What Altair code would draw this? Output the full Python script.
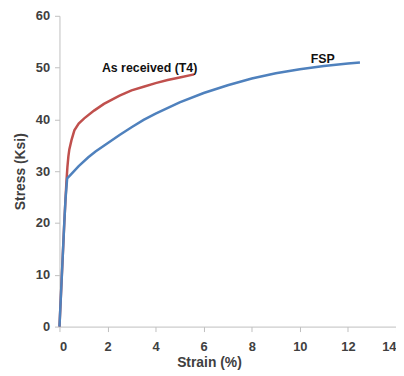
import altair as alt
import pandas as pd

red_x = [0, 0.05, 0.1, 0.15, 0.2, 0.25, 0.29, 0.33, 0.37, 0.41, 0.5, 0.62, 0.8, 1.03, 1.44, 1.85, 2.5, 3.0, 3.5, 4.0, 4.5, 5.0, 5.6]
red_y = [0, 5, 10, 15, 20, 24.5, 28.0, 30.8, 32.8, 34.2, 36.0, 37.9, 39.2, 40.2, 41.7, 43.0, 44.6, 45.6, 46.3, 47.0, 47.6, 48.1, 48.7]

blue_x = [0, 0.05, 0.1, 0.15, 0.2, 0.25, 0.32, 0.5, 0.8, 1.2, 1.5, 2.0, 2.5, 3.0, 3.5, 4.0, 5.0, 6.0, 7.0, 8.0, 9.0, 10.0, 11.0, 12.0, 12.5]
blue_y = [0, 5, 10, 15, 20, 24.5, 28.6, 29.5, 31.0, 32.7, 33.8, 35.4, 37.0, 38.5, 39.9, 41.1, 43.3, 45.1, 46.6, 47.9, 48.9, 49.7, 50.3, 50.8, 51.0]

labels = ["As received (T4)", "FSP"]
label_x = [3.75, 10.95]
label_y = [49.9, 51.6]

df = pd.concat([
    pd.DataFrame({"strain": red_x, "stress": red_y, "series": "As received (T4)", "order": range(len(red_x))}),
    pd.DataFrame({"strain": blue_x, "stress": blue_y, "series": "FSP", "order": range(len(blue_x))}),
])
lab = pd.DataFrame({"text": labels, "x": label_x, "y": label_y})

xscale = alt.Scale(domain=[0, 14], nice=False)
yscale = alt.Scale(domain=[0, 60], nice=False)

lines = alt.Chart(df).mark_line(strokeWidth=2.5).encode(
    x=alt.X("strain:Q", scale=xscale, title="Strain (%)",
            axis=alt.Axis(values=list(range(0, 15, 2)), grid=False, domainColor="#bfbfbf",
                          tickColor="#bfbfbf", tickSize=5, labelFontWeight="bold", labelFontSize=13,
                          labelColor="#404040", labelFont="Liberation Sans", labelPadding=9,
                          titleFont="Liberation Sans", titleFontSize=14, titleFontWeight="bold",
                          titleColor="#404040", titlePadding=2, titleX=151, titleAnchor="start",
                          titleAlign="center")),
    y=alt.Y("stress:Q", scale=yscale, title="Stress (Ksi)",
            axis=alt.Axis(values=list(range(0, 61, 10)), grid=False, domainColor="#bfbfbf",
                          tickColor="#bfbfbf", tickSize=5, labelFontWeight="bold", labelFontSize=13,
                          labelColor="#404040", labelFont="Liberation Sans", labelPadding=5,
                          titleFont="Liberation Sans", titleFontSize=14, titleFontWeight="bold",
                          titleColor="#404040", titlePadding=8)),
    color=alt.Color("series:N", scale=alt.Scale(domain=labels, range=["#c0504d", "#4f81bd"]), legend=None),
    order="order:Q",
)

text = alt.Chart(lab).mark_text(font="Liberation Sans", fontSize=12.5, fontWeight="bold", color="#111111").encode(
    x=alt.X("x:Q", scale=xscale),
    y=alt.Y("y:Q", scale=yscale),
    text="text:N",
)

chart = (lines + text).properties(
    width=340, height=314,
    autosize=alt.AutoSizeParams(type="none"),
    padding={"left": 52, "top": 6, "right": 0, "bottom": 48},
).configure_view(stroke=None)

chart.save("out.html", embed_options={"renderer": "svg", "actions": False})
